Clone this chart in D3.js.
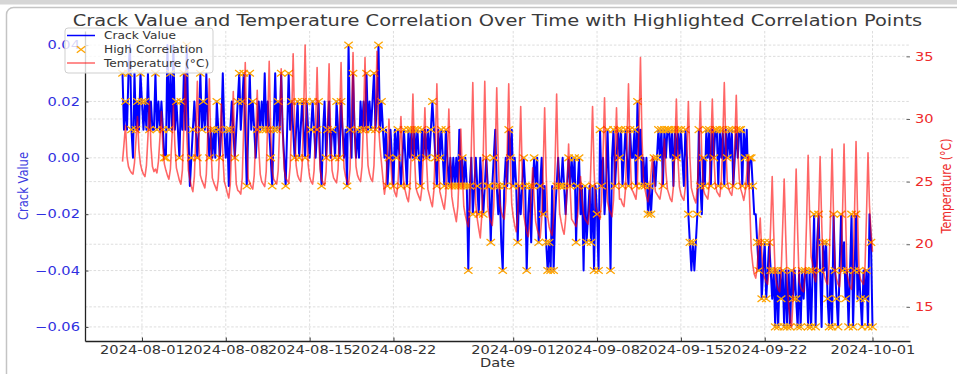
<!DOCTYPE html>
<html><head><meta charset="utf-8">
<script src="https://cdn.jsdelivr.net/npm/d3@7"></script>
<style>
html,body{margin:0;padding:0;background:#fff;}
svg{display:block;font-family:"DejaVu Sans",sans-serif;}
</style></head><body>
<svg id="chart" width="957" height="374"></svg>
<script>
// ---------------- DATA ----------------
const startTime = "2024-07-30T09:00:00Z";   // first reading
const stepHours = 3;                         // readings every 3 hours
// Crack value in hundredths (0.01), one row per day (07-30 ... 09-30, then 10-01 00:00)
const crackByDay = [
[3,1,2,1,3],
[4,1,0,3,1,2,1,3],
[2,1,2,1,3,1,2,1],
[1,3,1,2,1,2,1,0],
[0,4,1,3,1,4,1,2],
[1,0,2,1,3,1,4,1],
[-1,0,1,2,1,0,1,3],
[1,2,1,3,1,0,1,0],
[1,0,2,1,0,1,3,1],
[0,1,-1,1,2,1,0,1],
[2,3,1,2,3,1,-1,1],
[3,1,2,1,0,1,2,1],
[2,1,3,1,2,1,0,-1],
[1,3,1,2,1,3,1,0],
[-1,1,3,1,2,1,0,1],
[2,0,1,2,1,0,2,1],
[0,1,2,1,0,1,2,0],
[-1,1,2,0,1,2,0,1],
[1,0,2,1,0,2,1,0],
[1,-1,4,1,0,3,1,0],
[1,0,2,1,2,1,3,1],
[2,1,2,3,1,2,4,1],
[2,1,0,1,-1,0,1,0],
[-1,1,0,1,0,-1,0,1],
[0,-1,1,0,1,0,1,0],
[1,0,-1,1,0,1,0,1],
[0,1,2,1,0,-1,1,0],
[1,0,-1,1,0,-1,0,-1],
[0,-1,0,-1,1,-1,0,-1],
[0,-1,-4,-1,0,-2,-1,0],
[-1,-2,0,-1,-2,-1,0,-1],
[-1,-3,-1,0,1,-1,-2,-1],
[-3,-4,-1,0,-1,1,0,1],
[-1,0,-1,-3,-1,-2,-1,0],
[-1,-4,-2,-1,-3,-1,0,-1],
[0,-3,-1,0,-2,-1,-3,-4],
[-3,-4,-1,-4,-2,-1,0,-1],
[-1,0,-1,-2,-1,0,-1,0],
[-1,0,-3,-1,0,-2,-1,-4],
[-1,-3,-2,-1,-3,-1,-4,-1],
[-2,-4,1,-1,0,-2,-1,1],
[-1,-4,0,1,-1,0,1,0],
[1,-1,0,1,0,-1,1,0],
[0,1,-1,2,0,1,-1,0],
[-1,0,-2,-1,-2,-1,0,-1],
[0,1,0,1,-1,1,0,1],
[1,0,1,-1,1,0,1,0],
[1,0,-1,1,0,-2,-3,-4],
[-3,-4,-3,-2,1,-1,-2,0],
[-1,1,0,1,-1,1,0,1],
[1,-1,1,0,1,-1,1,0],
[1,0,1,-1,0,1,0,1],
[1,-1,1,0,1,-1,0,0],
[-1,-2,-2,-3,-4,-3,-5,-4],
[-3,-5,-4,-3,-4,-5,-4,-6],
[-4,-6,-4,-5,-4,-6,-4,-6],
[-4,-6,-4,-5,-4,-5,-6,-4],
[-6,-4,-5,-4,-4,-6,-4,-6],
[-4,-2,-6,-3,-2,-4,-6,-3],
[-4,-3,-5,-6,-4,-6,-2,-4],
[-5,-6,-4,-2,-4,-3,-5,-4],
[-6,-4,-2,-6,-4,-2,-5,-4],
[-5,-6,-4,-5,-4,-6,-2,-3],
[-6]
];
// High-correlation flags, aligned with crackByDay
const highlightByDay = [
"10101","01001101","10100100","01100011","10110001","01101010","01100101","11000110",
"10111000","01010010","11011010","10100100","01010111","10110100","10101010","11010110",
"01100110","10011001","01101100","01110100","10010110","01011010","11001100","10110101",
"01101011","10110010","01101101","10110101","01010111","01110100","11001011","11010101",
"01100110","10011001","11010110","01101011","11010101","10100110","01111000","11001110",
"11110001","01011011","11010110","01111010","10111010","11011101","10101110","10010110",
"10011101","11011011","11101101","10110101","11010111","10011110","11011011","11011101",
"01110110","11010111","11101101","01110111","11011011","10111101","11011101","1"
];
// Temperature (°C), aligned with crackByDay
const tempByDay = [
[26.6,28.0,29.5,27.0,26.2],
[25.9,25.7,25.6,26.5,28.3,30.2,27.5,26.4],
[25.9,25.6,25.4,26.3,28.6,31.4,27.8,26.2],
[25.8,26.0,25.7,26.6,28.5,30.6,27.6,26.4],
[25.9,25.5,25.2,26.0,28.4,31.2,27.9,26.1],
[25.6,25.1,24.8,25.9,29.5,33.8,28.6,25.9],
[25.2,24.6,24.2,25.4,28.8,33.0,28.1,25.5],
[25.1,24.8,24.5,25.6,29.0,33.2,28.0,25.3],
[24.9,24.6,24.3,25.2,28.0,31.2,27.2,25.0],
[24.6,24.1,23.7,24.8,28.3,32.2,27.4,24.8],
[24.3,24.2,24.0,25.3,29.5,34.5,28.7,25.2],
[24.9,24.6,24.4,25.5,28.6,32.3,27.8,25.6],
[25.0,24.8,24.6,25.8,29.8,34.6,29.0,25.9],
[25.2,25.0,24.8,25.9,29.4,34.0,28.8,26.0],
[25.3,25.1,24.9,26.2,30.1,35.2,29.4,26.3],
[25.5,25.2,25.0,26.3,30.5,35.9,29.8,26.4],
[25.4,25.0,24.8,25.9,29.6,34.1,28.9,26.0],
[25.2,24.9,24.7,25.8,29.7,34.4,29.0,25.9],
[25.3,25.1,24.9,26.0,29.8,34.5,29.1,26.1],
[25.4,25.0,24.8,26.0,30.2,35.3,29.5,26.2],
[25.5,25.2,25.0,26.2,30.0,34.9,29.3,26.3],
[25.6,25.2,25.0,26.3,30.3,35.4,29.6,27.8],
[26.5,25.2,24.0,25.0,27.4,30.0,27.0,25.0],
[24.6,24.1,23.8,24.8,27.3,30.2,26.8,24.7],
[24.2,23.7,23.4,24.6,27.8,32.0,27.3,24.5],
[24.1,23.8,23.5,24.5,27.4,30.9,26.9,24.4],
[23.9,23.4,23.0,24.3,28.0,32.8,27.5,24.2],
[23.7,23.2,22.8,24.0,27.0,30.8,26.6,23.8],
[23.0,22.4,21.8,23.0,26.0,29.2,25.6,23.0],
[22.3,21.8,21.4,23.0,27.6,32.9,26.9,23.2],
[22.0,21.2,20.5,22.3,27.2,33.0,26.8,23.0],
[22.2,21.8,21.5,23.0,27.3,32.5,26.9,23.3],
[22.6,22.2,22.0,23.4,27.6,32.8,27.0,23.2],
[22.2,21.5,21.0,22.4,26.4,31.0,25.8,22.4],
[21.6,21.0,20.6,21.6,23.8,26.1,23.6,21.8],
[21.2,20.8,20.5,22.0,26.0,30.9,25.6,22.2],
[21.4,21.0,20.7,22.3,26.6,32.0,26.2,22.5],
[21.8,21.2,20.8,22.0,24.8,28.0,24.5,22.0],
[21.8,21.6,21.4,22.2,23.8,25.4,23.6,22.4],
[22.0,21.8,21.6,23.0,26.8,31.0,26.0,23.0],
[22.6,22.3,22.0,23.4,27.2,31.7,26.6,23.4],
[22.8,22.5,22.2,23.5,26.9,30.9,26.4,23.6],
[23.6,23.2,23.0,24.4,28.2,32.8,27.6,24.4],
[24.2,23.9,23.6,25.0,29.4,34.9,28.6,25.2],
[24.4,23.8,23.4,24.2,25.6,27.0,25.4,24.2],
[24.0,23.8,23.6,24.4,26.2,28.4,25.8,24.4],
[24.0,23.6,23.4,24.6,27.6,31.6,27.0,24.6],
[24.0,23.7,23.5,24.6,27.5,31.4,27.0,24.5],
[24.0,23.6,23.3,24.5,27.4,31.4,26.9,24.4],
[24.0,23.8,23.6,24.8,27.7,31.6,27.2,24.8],
[24.2,24.0,23.8,25.0,28.4,32.9,27.9,25.0],
[24.4,24.1,23.9,25.0,28.0,31.9,27.5,25.2],
[24.4,24.0,23.5,24.2,25.6,27.0,23.2,19.6],
[18.4,17.6,17.3,18.2,20.2,22.1,19.4,17.6],
[17.3,17.0,16.8,18.2,21.6,25.4,21.0,17.6],
[16.8,16.4,16.2,17.8,21.4,25.2,20.8,16.9],
[15.2,14.0,13.4,15.8,21.2,26.0,21.0,17.0],
[16.6,16.3,16.2,17.8,22.0,27.1,22.4,19.0],
[18.4,17.4,17.0,18.5,22.2,27.0,22.0,18.0],
[17.4,17.0,16.8,18.4,22.4,27.6,22.2,17.8],
[17.2,16.8,16.6,18.2,22.6,28.0,22.4,17.6],
[17.0,16.6,16.4,18.0,22.6,28.2,22.6,17.8],
[17.2,17.0,16.8,18.2,22.4,27.3,23.0,21.0],
[19.4]
];
const xTickLabels = ["2024-08-01","2024-08-08","2024-08-15","2024-08-22","2024-09-01","2024-09-08","2024-09-15","2024-09-22","2024-10-01"];
const crackTicks = [-0.06,-0.04,-0.02,0.00,0.02,0.04];
const tempTicks = [15,20,25,30,35];

// ---------------- BUILD ----------------
const crackVals = d3.merge(crackByDay).map(v => v / 100);
const hlFlags = d3.merge(highlightByDay.map(s => s.split("").map(c => c === "1")));
const tempVals = d3.merge(tempByDay);
const t0 = new Date(startTime);
const rows = crackVals.map((c, i) => ({
  t: d3.utcHour.offset(t0, i * stepHours), c, T: tempVals[i], hl: hlFlags[i]
}));

const SX = 1.27;                 // horizontal stretch of the original rendering
const L = 85, R = 910, TOP = 31, BOT = 341;
const svg = d3.select("#chart");

function pad(ext, f) { const r = ext[1] - ext[0]; return [ext[0] - f * r, ext[1] + f * r]; }
const tExt = d3.extent(rows, d => d.t);
const tSpan = tExt[1] - tExt[0];
const x = d3.scaleUtc().domain([new Date(+tExt[0] - 0.05 * tSpan), new Date(+tExt[1] + 0.05 * tSpan)]).range([L, R]);
const yC = d3.scaleLinear().domain(pad(d3.extent(rows, d => d.c), 0.05)).range([BOT, TOP]);
const yT = d3.scaleLinear().domain(pad(d3.extent(rows, d => d.T), 0.05)).range([BOT, TOP]);
const xTicks = xTickLabels.map(s => new Date(s + "T00:00:00Z"));

// frame of the original screenshot
svg.append("rect").attr("x", 0).attr("y", 0).attr("width", 957).attr("height", 4.5).attr("fill", "#d6d6d6");
svg.append("rect").attr("x", 6.5).attr("y", 7.5).attr("width", 970).attr("height", 400).attr("rx", 7)
  .attr("fill", "none").attr("stroke", "#c4c4c4").attr("stroke-width", 1.5);

// grid
const grid = svg.append("g").attr("stroke", "#d4d4d4").attr("stroke-width", 0.8).attr("stroke-dasharray", "2.5,1.8");
grid.selectAll(".gx").data(xTicks).join("line")
  .attr("x1", d => x(d)).attr("x2", d => x(d)).attr("y1", TOP).attr("y2", BOT);
grid.selectAll(".gyc").data(crackTicks).join("line").attr("class", "gyc")
  .attr("x1", L).attr("x2", R).attr("y1", d => yC(d)).attr("y2", d => yC(d));
grid.selectAll(".gyt").data(tempTicks).join("line").attr("class", "gyt")
  .attr("x1", L).attr("x2", R).attr("y1", d => yT(d)).attr("y2", d => yT(d));

// crack line
svg.append("path").datum(rows)
  .attr("d", d3.line().x(d => x(d.t)).y(d => yC(d.c)))
  .attr("fill", "none").attr("stroke", "#0000ff").attr("stroke-width", 2).attr("stroke-linejoin", "round");

// high-correlation markers
const xm = "M-4.2,-3.3L4.2,3.3M-4.2,3.3L4.2,-3.3";
svg.append("g").selectAll("path").data(rows.filter(d => d.hl)).join("path")
  .attr("transform", d => `translate(${x(d.t)},${yC(d.c)})`)
  .attr("d", xm).attr("fill", "none").attr("stroke", "#ffa500").attr("stroke-width", 1.3);

// temperature line
svg.append("path").datum(rows)
  .attr("d", d3.line().x(d => x(d.t)).y(d => yT(d.T)))
  .attr("fill", "none").attr("stroke", "#ff0000").attr("stroke-opacity", 0.6).attr("stroke-width", 1.6).attr("stroke-linejoin", "round");

// axes
function styleAxis(g, color, tickColor) {
  g.selectAll("text").attr("font-size", 11.5).attr("fill", color).attr("font-family", "DejaVu Sans")
    .attr("transform", `scale(${SX},1)`);
  g.selectAll(".tick line").attr("stroke", tickColor).attr("stroke-width", 1);
}
const gx = svg.append("g").attr("transform", `translate(0,${BOT})`)
  .call(d3.axisBottom(x).tickValues(xTicks).tickFormat(d3.utcFormat("%Y-%m-%d")).tickSizeInner(-3.5).tickSizeOuter(0).tickPadding(4.8));
styleAxis(gx, "#333", "#333");
gx.select(".domain").attr("stroke", "#222").attr("stroke-width", 1.3);

const gl = svg.append("g").attr("transform", `translate(${L},0)`)
  .call(d3.axisLeft(yC).tickValues(crackTicks).tickFormat(d3.format(".2f")).tickSizeInner(-3.5).tickSizeOuter(0).tickPadding(4));
styleAxis(gl, "#2f2fe0", "#444");
gl.select(".domain").attr("stroke", "#222").attr("stroke-width", 1.3);

const gr = svg.append("g").attr("transform", `translate(${R},0)`)
  .call(d3.axisRight(yT).tickValues(tempTicks).tickFormat(d3.format("d")).tickSizeInner(-3.5).tickSizeOuter(0).tickPadding(4));
styleAxis(gr, "#ee2a2a", "#666");
gr.select(".domain").remove();

// text helper
function addText(x0, y0, str, o) {
  return svg.append("text")
    .attr("transform", `translate(${x0},${y0}) scale(${SX},1)` + (o.rot ? ` rotate(${o.rot})` : ""))
    .attr("text-anchor", o.anchor || "middle").attr("font-size", o.size).attr("fill", o.fill).text(str);
}
addText((L + R) / 2, 367, "Date", { size: 11.5, fill: "#333" });
addText(28, (TOP + BOT) / 2, "Crack Value", { size: 11.5, fill: "#3a3ae0", rot: -90 });
addText(951, (TOP + BOT) / 2, "Temperature (°C)", { size: 11, fill: "#ee2a2a", rot: -90 });
addText(497.5, 26, "Crack Value and Temperature Correlation Over Time with Highlighted Correlation Points", { size: 15.3, fill: "#3a3a3a" });

// legend
const lg = svg.append("g");
lg.append("rect").attr("x", 65).attr("y", 28).attr("width", 148).attr("height", 45).attr("rx", 3)
  .attr("fill", "#fff").attr("fill-opacity", 0.8).attr("stroke", "#cfcfcf").attr("stroke-width", 1);
const legendItems = [
  { label: "Crack Value", type: "line", color: "#0000ff", op: 1, y: 35.5 },
  { label: "High Correlation", type: "x", color: "#ffa500", op: 1, y: 49.5 },
  { label: "Temperature (°C)", type: "line", color: "#ff0000", op: 0.6, y: 63 }
];
legendItems.forEach(it => {
  if (it.type === "line") {
    lg.append("line").attr("x1", 67).attr("x2", 95).attr("y1", it.y).attr("y2", it.y)
      .attr("stroke", it.color).attr("stroke-opacity", it.op).attr("stroke-width", 1.5);
  } else {
    lg.append("path").attr("transform", `translate(81,${it.y})`).attr("d", xm)
      .attr("fill", "none").attr("stroke", it.color).attr("stroke-width", 1.3);
  }
  lg.append("text").attr("transform", `translate(104,${it.y + 3.6}) scale(${SX},1)`)
    .attr("font-size", 9.6).attr("fill", "#333").text(it.label);
});
</script>
</body></html>
